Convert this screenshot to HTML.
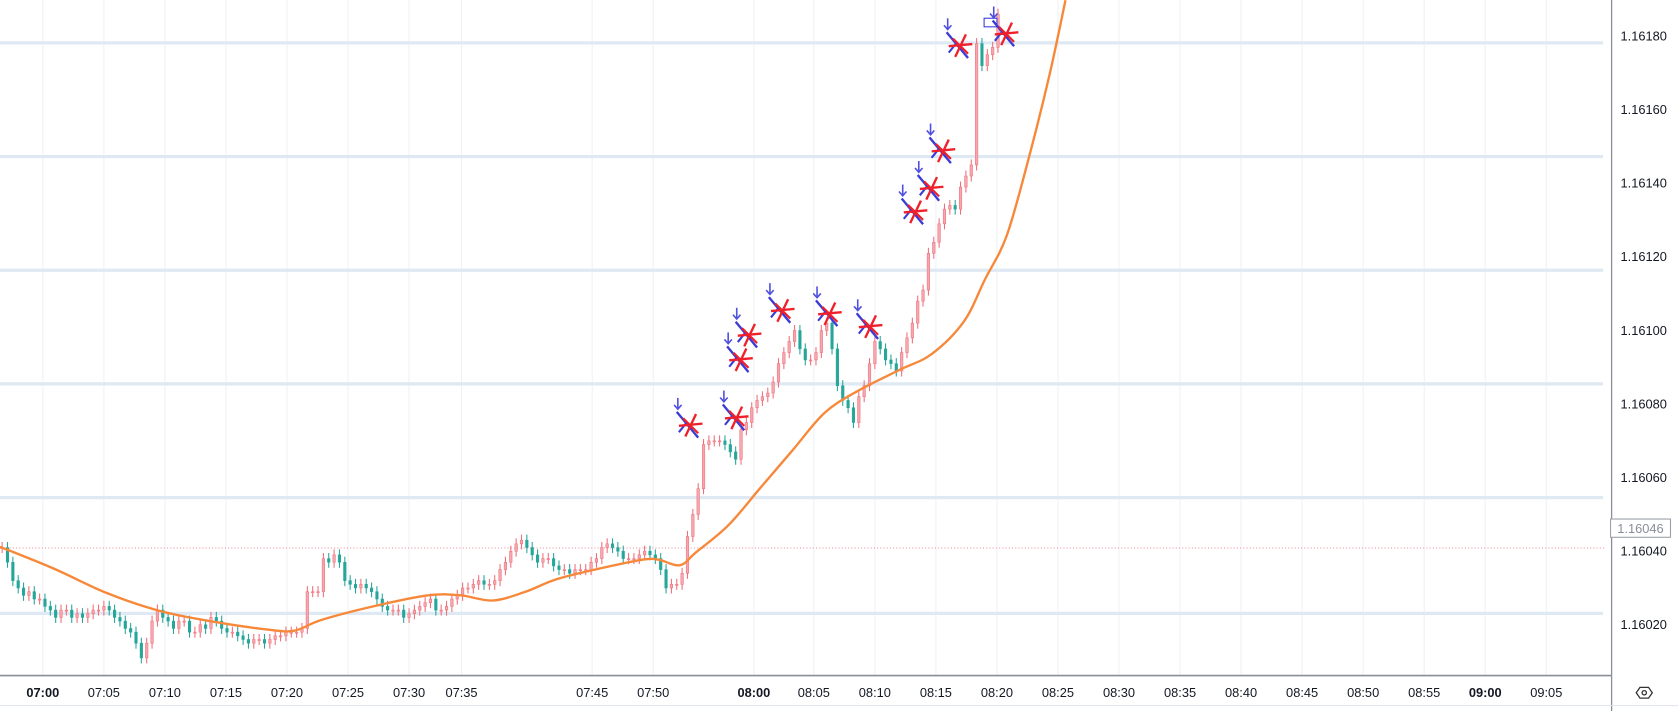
<!DOCTYPE html>
<html><head><meta charset="utf-8"><style>
html,body{margin:0;padding:0;background:#fff;overflow:hidden}
svg{display:block;font-family:"Liberation Sans",sans-serif}
</style></head><body>
<svg id="chart" width="1678" height="711" viewBox="0 0 1567 663" preserveAspectRatio="none" xmlns="http://www.w3.org/2000/svg">
<rect x="0" y="0" width="1567" height="663" fill="#fff"/>
<g id="vgrid"></g>
<g id="hgrid"></g>
<line x1="0" y1="511" x2="1500" y2="511" stroke="#f28b9b" stroke-width="1" stroke-dasharray="1,2"/>
<g id="candles"></g>
<path id="ma" fill="none" stroke="#f7883a" stroke-width="2.2"/>
<g id="markers"></g>
<rect x="919" y="17" width="12" height="8" fill="none" stroke="#3a3adf" stroke-width="1"/>
<line x1="1505" y1="0" x2="1505" y2="663" stroke="#8a8e99" stroke-width="1.2"/>
<line x1="0" y1="630" x2="1505" y2="630" stroke="#8a8e99" stroke-width="1.5"/>
<line x1="0" y1="658" x2="1567" y2="658" stroke="#e0e3eb" stroke-width="1"/>
<g id="yaxis"></g>
<g id="xaxis"></g>
<rect x="1504" y="484" width="56" height="17" fill="#fff" stroke="#9aa0a8" stroke-width="1"/>
<text x="1532" y="497" text-anchor="middle" font-size="12" fill="#8a8e99">1.16046</text>
<g>
<path d="M1528 646 l3.5 -5 h8 l3.5 5 l-3.5 5 h-8 z" fill="none" stroke="#333" stroke-width="1.2"/>
<circle cx="1535.5" cy="646" r="2" fill="none" stroke="#333" stroke-width="1.2"/>
</g>
</svg>
<script>
// data
const basePrice = 1.16;
const closesPips = [41,37,32,30,28,29,27,27,25,24,22,24,24,22,23,22,23,24,24,25,24,22,21,19,18,15,11,15,21,24,22,21,19,21,21,18,18,20,19,22,21,19,18,18,17,16,15,16,16,15,16,17,17,18,18,18,19,29,29,29,38,37,39,37,32,31,30,31,30,29,27,25,24,24,24,22,23,24,25,26,27,24,24,25,27,28,30,30,31,32,31,31,32,35,37,40,42,43,41,39,37,38,38,36,35,35,34,35,35,35,37,38,41,42,41,40,38,38,38,39,40,39,38,35,30,31,31,34,44,50,57,69,70,70,70,69,67,65,73,75,79,81,82,83,86,91,94,97,100,95,92,92,94,100,102,95,85,81,79,75,82,85,91,97,95,92,91,89,94,98,102,108,111,121,124,129,133,134,133,139,142,145,178,172,175,177,186];
const maIndex = [0,10,20,30,40,50,55,60,70,80,86,92,98,104,112,120,123,127,130,136,142,148,154,160,168,174,180,184,188,192,196,199];
const maPips = [41.2,35.3,28.6,23.7,20.8,18.7,18.4,21.3,25.1,28,28,26.6,28.9,32.4,35.3,37.7,37.7,36.2,39.7,47,57.2,67.4,77.6,83.4,89.3,93.6,102.4,114,125.7,146.1,169.4,189.8];
const markerIndex = [128.6,137.2,138,139.6,145.8,154.6,162.2,170.6,173.6,175.8,179,187.6];
const markerPips = [74.1,76.1,91.9,98.6,105.3,104.4,100.9,132.1,138.5,148.7,177.3,180.5];
const priceTicks = ["1.16180","1.16160","1.16140","1.16120","1.16100","1.16080","1.16060","1.16040","1.16020"];
const timeLabels = ["07:00","07:05","07:10","07:15","07:20","07:25","07:30","07:35","07:45","07:50","08:00","08:05","08:10","08:15","08:20","08:25","08:30","08:35","08:40","08:45","08:50","08:55","09:00","09:05"];
const timeIdx = [8,19.4,30.8,42.2,53.6,65,76.4,86.2,110.6,122,140.8,152,163.4,174.8,186.2,197.6,209,220.4,231.8,243.2,254.6,266,277.4,288.8];
const hLines = [40,146,252,358,464,572];

const NS="http://www.w3.org/2000/svg";
const X = i => i*5;
const Y = pips => 514 - (pips-40)*3.43;
function mk(tag, attrs, parent){const e=document.createElementNS(NS,tag);for(const k in attrs)e.setAttribute(k,attrs[k]);parent.appendChild(e);return e;}

const vg=document.getElementById('vgrid');
timeIdx.forEach((t,i)=>{
  const l=mk('line',{x1:X(t),x2:X(t),y1:0,y2:630,stroke:'#eef1f5','stroke-width':1},vg);
  
  
});
const hg=document.getElementById('hgrid');
hLines.forEach(y=>{
  const l=mk('line',{x1:0,x2:1497,y1:y,y2:y,stroke:'#dfe9f3','stroke-width':3},hg);
  
  
});

const cg=document.getElementById('candles');
closesPips.forEach((c,i)=>{
  const o = i===0 ? c : closesPips[i-1];
  const up = c>=o;
  const col = up ? '#ef6f7a' : '#26a69a';
  const hi = Math.max(o,c)+1.5, lo=Math.min(o,c)-1.5;
  const x=X(i)+2;
  const w=mk('line',{x1:x,x2:x,y1:Y(hi),y2:Y(lo),stroke:col,'stroke-width':1},cg);
  
  
  const top=Y(Math.max(o,c)), h=Math.max(1,Y(Math.min(o,c))-top);
  const b=mk('rect',{x:x-1.2,y:top,width:2.4,height:h,fill:up?'#f4a7ae':'#26a69a',stroke:col,'stroke-width':0.5},cg);
  
  
});

// smooth MA via Catmull-Rom
const pts=maIndex.map((t,i)=>[X(t),Y(maPips[i])]);
let d='M'+pts[0][0]+' '+pts[0][1];
for(let i=0;i<pts.length-1;i++){
  const p0=pts[Math.max(0,i-1)],p1=pts[i],p2=pts[i+1],p3=pts[Math.min(pts.length-1,i+2)];
  const c1=[p1[0]+(p2[0]-p0[0])/6,p1[1]+(p2[1]-p0[1])/6];
  const c2=[p2[0]-(p3[0]-p1[0])/6,p2[1]-(p3[1]-p1[1])/6];
  d+=` C${c1[0]} ${c1[1]} ${c2[0]} ${c2[1]} ${p2[0]} ${p2[1]}`;
}
document.getElementById('ma').setAttribute('d',d);

const mg=document.getElementById('markers');
markerIndex.forEach((t,i)=>{
  const x=X(t), y=Y(markerPips[i]);
  const g=mk('g',{},mg);
  
  
  mk('line',{x1:x-11,y1:y-13,x2:x+9,y2:y+11,stroke:'#3b3bd6','stroke-width':2.2},g);
  mk('line',{x1:x-9,y1:y+6,x2:x-1,y2:y-4,stroke:'#3b3bd6','stroke-width':2},g);
  mk('line',{x1:x-10,y1:y-26,x2:x-10,y2:y-16,stroke:'#5050e0','stroke-width':1.5},g);
  mk('path',{d:`M${x-13.5} ${y-19.5} L${x-10} ${y-15.5} L${x-6.5} ${y-19.5}`,fill:'none',stroke:'#5050e0','stroke-width':1.5},g);
  const cx=x+2, cy=y;
  mk('line',{x1:cx-11,y1:cy,x2:cx+11,y2:cy-2,stroke:'#f0202a','stroke-width':2.2},g);
  mk('line',{x1:cx-5,y1:cy+10,x2:cx+5,y2:cy-11,stroke:'#f0202a','stroke-width':2.2},g);
  mk('line',{x1:cx-7,y1:cy-7,x2:cx+7,y2:cy+7,stroke:'#f0202a','stroke-width':2},g);
});

const ya=document.getElementById('yaxis');
priceTicks.forEach(s=>{
  const p=(parseFloat(s)-basePrice)*100000;
  const t=mk('text',{x:1535,y:Y(p)+4,'text-anchor':'middle','font-size':12,fill:'#131722'},ya);
  t.textContent=s;
  
  
});
const xa=document.getElementById('xaxis');
timeLabels.forEach((s,i)=>{
  const bold = s==='07:00'||s==='08:00'||s==='09:00';
  const t=mk('text',{x:X(timeIdx[i]),y:650,'text-anchor':'middle','font-size':12,fill:'#131722','font-weight':bold?'bold':'normal'},xa);
  t.textContent=s;
  
  
});
</script>
</body></html>
